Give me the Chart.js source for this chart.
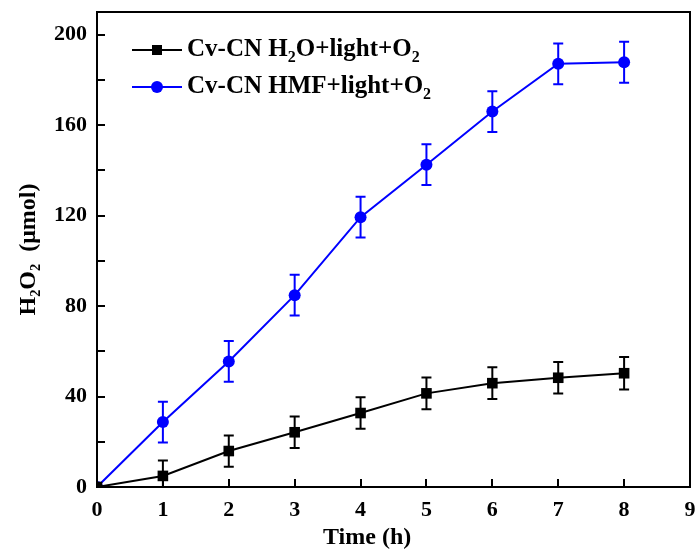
<!DOCTYPE html>
<html><head><meta charset="utf-8">
<script src="https://cdn.jsdelivr.net/npm/chart.js@4"></script>
<style>html,body{margin:0;padding:0;background:#fff}#wrap{width:699px;height:555px}</style>
</head><body><div id="wrap"><canvas id="c" width="699" height="555"></canvas></div>
<script>
const times = [0, 1, 2, 3, 4, 5, 6, 7, 8];
const h2oValues = [0, 4.9, 15.9, 24.2, 32.7, 41.4, 45.9, 48.3, 50.3];
const h2oErrors = [0, 6.8, 6.9, 7.0, 7.0, 7.0, 7.0, 7.0, 7.2];
const hmfValues = [0, 28.7, 55.5, 84.8, 119.3, 142.5, 166.0, 187.1, 187.8];
const hmfErrors = [0, 9.0, 9.0, 9.0, 9.0, 9.0, 9.0, 9.0, 9.1];
const xTicks = [0, 1, 2, 3, 4, 5, 6, 7, 8, 9];
const yTicks = [0, 20, 40, 60, 80, 100, 120, 140, 160, 180, 200];
const yLabelTicks = [0, 40, 80, 120, 160, 200];
const xTitle = 'Time (h)';
const yTitle = 'H₂O₂  (μmol)';
const legendParts = [
  [{t: 'Cv-CN H'}, {t: '2', sub: true}, {t: 'O+light+O'}, {t: '2', sub: true}],
  [{t: 'Cv-CN HMF+light+O'}, {t: '2', sub: true}]
];

const FONT = '"Liberation Serif", "Times New Roman", serif';
const BLUE = '#0000FF';
const colors = ['#000000', BLUE];
const errs = [h2oErrors, hmfErrors];

const boxPlugin = {
  id: 'boxAndErrors',
  afterDatasetsDraw(chart) {
    const {ctx, chartArea: a, scales: {x, y}} = chart;
    ctx.save();
    ctx.beginPath();
    ctx.rect(a.left, a.top, a.right - a.left, a.bottom - a.top);
    ctx.clip();
    chart.data.datasets.forEach((ds, i) => {
      ctx.strokeStyle = colors[i];
      ctx.lineWidth = 2;
      ds.data.forEach((p, j) => {
        const e = errs[i][j];
        if (!e) return;
        const px = x.getPixelForValue(p.x);
        const y1 = y.getPixelForValue(p.y + e);
        const y2 = y.getPixelForValue(p.y - e);
        ctx.beginPath();
        ctx.moveTo(px, y1); ctx.lineTo(px, y2);
        ctx.moveTo(px - 5, y1); ctx.lineTo(px + 5, y1);
        ctx.moveTo(px - 5, y2); ctx.lineTo(px + 5, y2);
        ctx.stroke();
      });
    });
    ctx.restore();
  },
  afterDraw(chart) {
    const {ctx, chartArea: a, scales: {x, y}} = chart;
    ctx.save();
    ctx.strokeStyle = '#000';
    ctx.lineWidth = 2;
    ctx.strokeRect(a.left, a.top, a.right - a.left, a.bottom - a.top);
    ctx.beginPath();
    xTicks.forEach(v => {
      const px = Math.round(x.getPixelForValue(v));
      ctx.moveTo(px, a.bottom); ctx.lineTo(px, a.bottom - 8);
    });
    yTicks.forEach(v => {
      const py = Math.round(y.getPixelForValue(v));
      ctx.moveTo(a.left, py); ctx.lineTo(a.left + 8, py);
    });
    ctx.stroke();

    // x axis title (offset left of centre, as in the original figure)
    ctx.fillStyle = '#000';
    ctx.font = 'bold 24px ' + FONT;
    ctx.textAlign = 'center';
    ctx.textBaseline = 'middle';
    ctx.fillText(xTitle, x.getPixelForValue(4.1), 538);

    const rows = [50, 87];
    rows.forEach((ry, i) => {
      ctx.strokeStyle = colors[i];
      ctx.fillStyle = colors[i];
      ctx.lineWidth = 2;
      ctx.beginPath();
      ctx.moveTo(132, ry); ctx.lineTo(182, ry);
      ctx.stroke();
      ctx.beginPath();
      if (i === 0) ctx.rect(157 - 5, ry - 5, 10, 10);
      else ctx.arc(157, ry, 6, 0, Math.PI * 2);
      ctx.fill();
      let tx = 187;
      ctx.fillStyle = '#000';
      ctx.textBaseline = 'middle';
      ctx.textAlign = 'left';
      legendParts[i].forEach(part => {
        ctx.font = part.sub ? 'bold 16px ' + FONT : 'bold 25px ' + FONT;
        ctx.fillText(part.t, tx, part.sub ? ry + 8 : ry);
        tx += ctx.measureText(part.t).width;
      });
    });
    ctx.restore();
  }
};

new Chart(document.getElementById('c'), {
  type: 'line',
  data: {
    datasets: [
      {
        label: 'Cv-CN H₂O+light+O₂',
        data: times.map((t, i) => ({x: t, y: h2oValues[i]})),
        borderColor: '#000', backgroundColor: '#000',
        borderWidth: 2, pointStyle: 'rect', pointRadius: 7.5, pointBorderWidth: 0,
        tension: 0
      },
      {
        label: 'Cv-CN HMF+light+O₂',
        data: times.map((t, i) => ({x: t, y: hmfValues[i]})),
        borderColor: BLUE, backgroundColor: BLUE,
        borderWidth: 2, pointStyle: 'circle', pointRadius: 6, pointBorderWidth: 0,
        tension: 0
      }
    ]
  },
  options: {
    responsive: false,
    animation: false,
    devicePixelRatio: 1,
    layout: {padding: {top: 12, right: 9, left: 0, bottom: 0}},
    plugins: {legend: {display: false}, tooltip: {enabled: false}},
    scales: {
      x: {
        type: 'linear', min: 0, max: 9,
        afterBuildTicks: s => { s.ticks = xTicks.map(v => ({value: v})); },
        grid: {display: false, drawTicks: false},
        border: {display: true, color: '#000', width: 2},
        ticks: {color: '#000', font: {family: FONT, size: 22, weight: 'bold'}, padding: 10, maxRotation: 0,
          callback: v => String(v)},
        title: {display: false},
        afterFit: s => { s.height = 68; s.paddingLeft = 0; s.paddingRight = 0; }
      },
      y: {
        type: 'linear', min: 0, max: 210,
        afterBuildTicks: s => { s.ticks = yTicks.map(v => ({value: v})); },
        grid: {display: false, drawTicks: false},
        border: {display: true, color: '#000', width: 2},
        ticks: {color: '#000', font: {family: FONT, size: 22, weight: 'bold'}, padding: 10,
          callback: v => yLabelTicks.includes(v) ? String(v) : ''},
        title: {display: true, text: yTitle, color: '#000', font: {family: FONT, size: 24, weight: 'bold'}, padding: {top: 14, bottom: 0}},
        afterFit: s => { s.width = 97; s.paddingTop = 0; s.paddingBottom = 0; }
      }
    }
  },
  plugins: [boxPlugin]
});
</script>
</body></html>
